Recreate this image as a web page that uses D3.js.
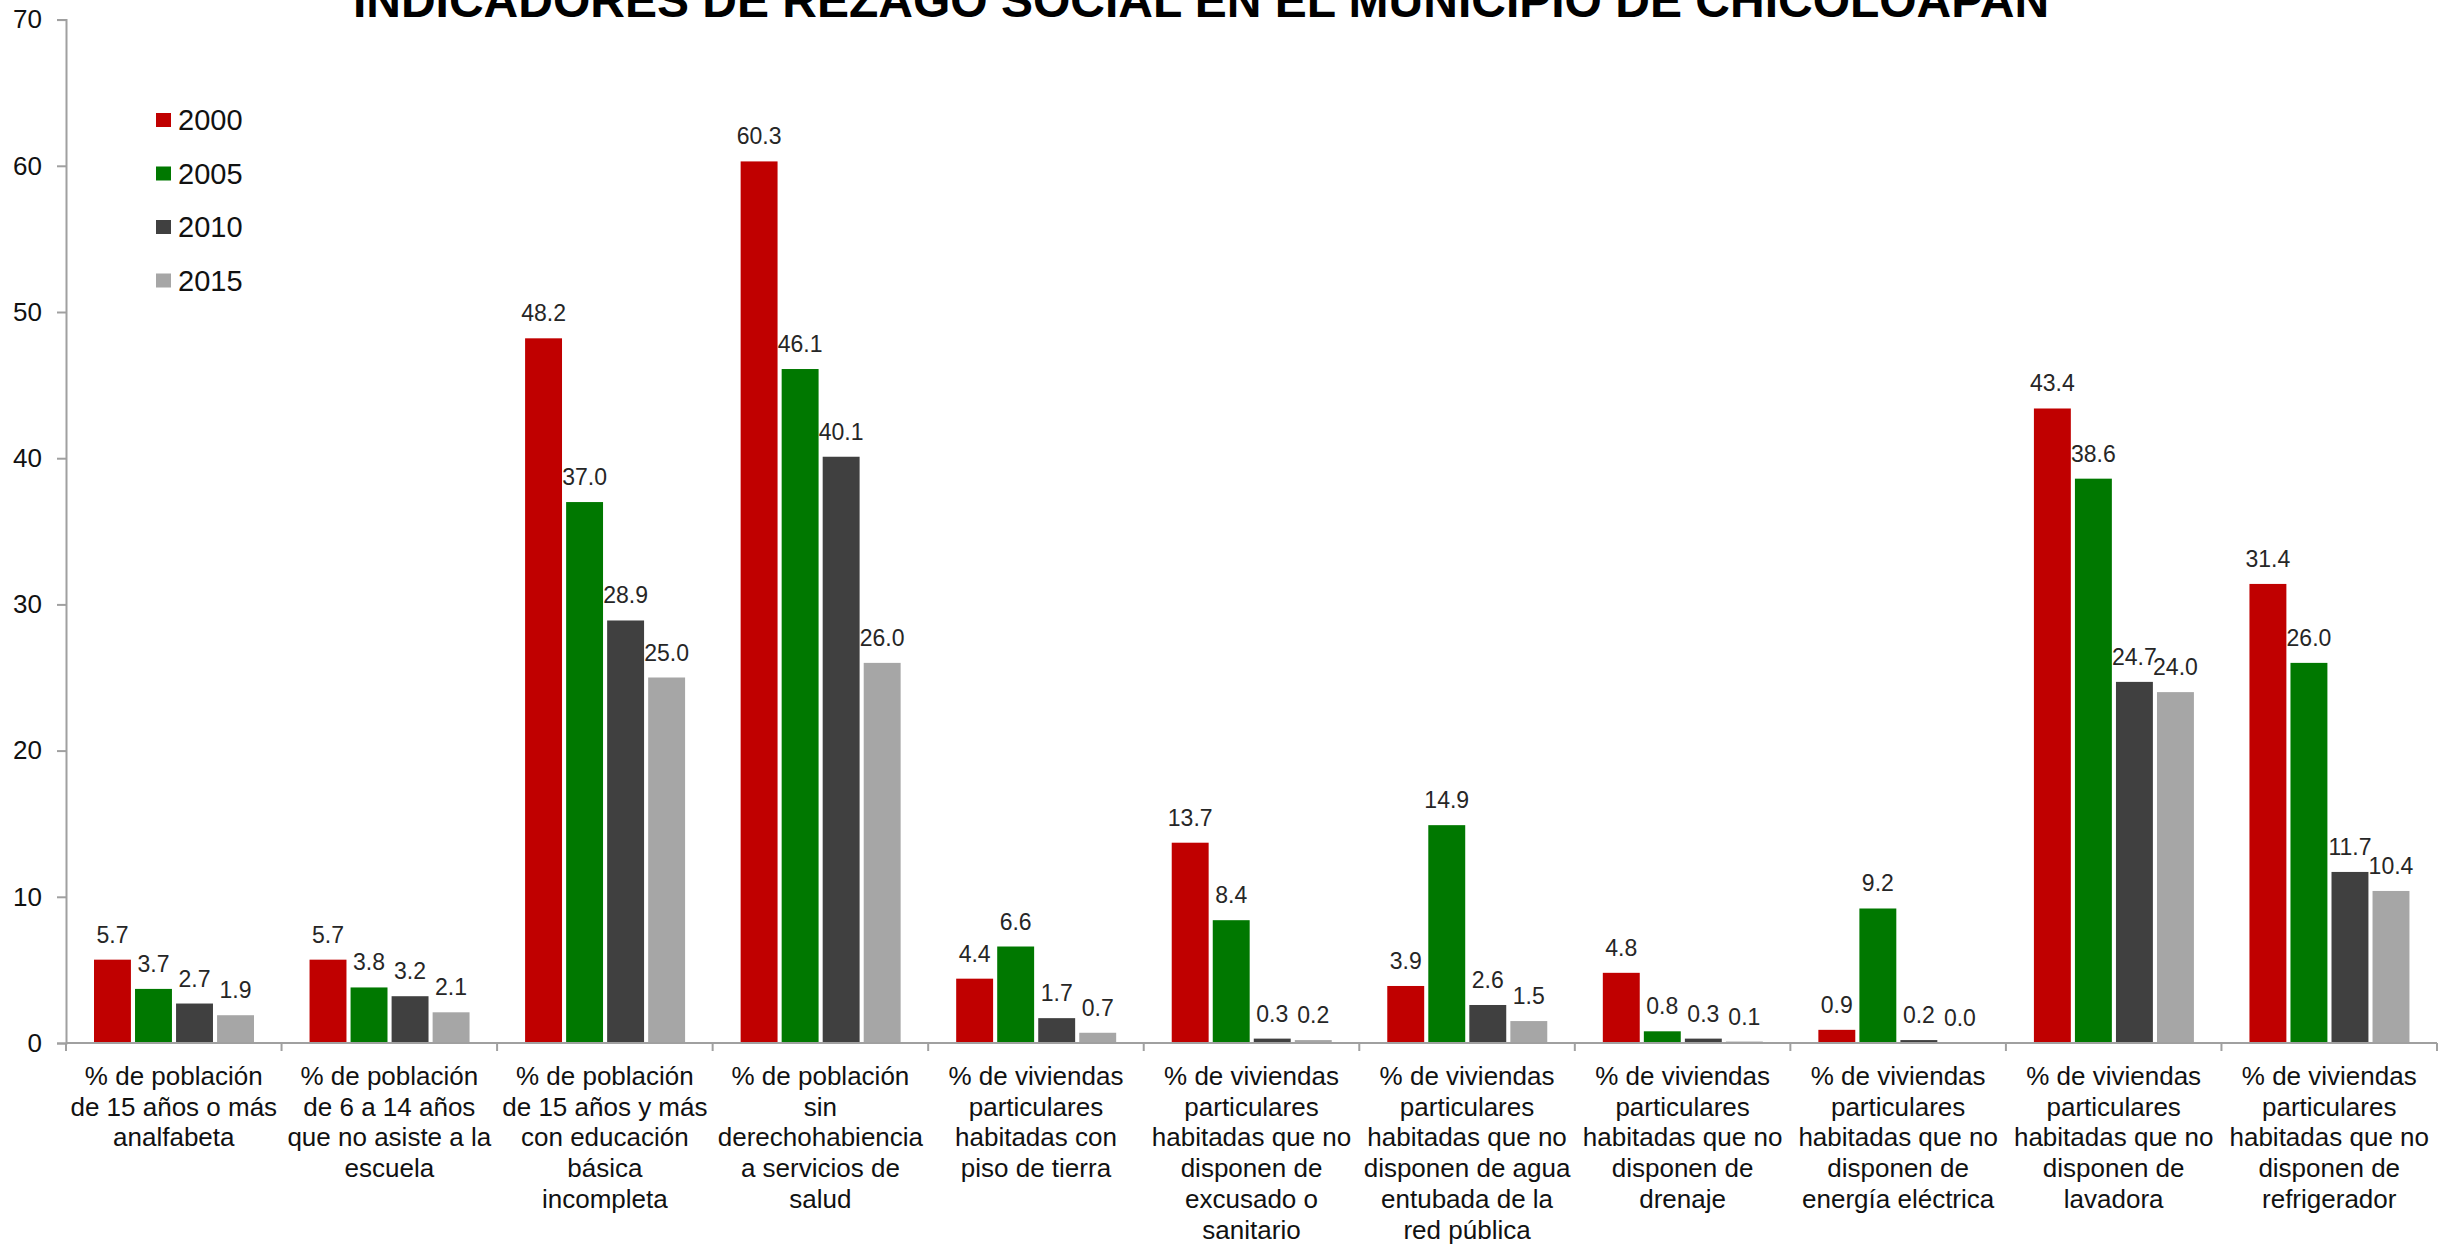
<!DOCTYPE html>
<html><head><meta charset="utf-8">
<script src="https://cdn.jsdelivr.net/npm/d3@7"></script>
<style>
html,body{margin:0;padding:0;background:#fff;}
svg{display:block;font-family:"Liberation Sans",Arial,sans-serif;}
</style></head>
<body>
<svg id="chart" width="2456" height="1246"></svg>
<script>
const title = "INDICADORES DE REZAGO SOCIAL EN EL MUNICIPIO DE CHICOLOAPAN";
const years = ["2000","2005","2010","2015"];
const colors = ["#C00000","#007800","#404040","#A6A6A6"];
const categories = [
  ["% de población","de 15 años o más","analfabeta"],
  ["% de población","de 6 a 14 años","que no asiste a la","escuela"],
  ["% de población","de 15 años y más","con educación","básica","incompleta"],
  ["% de población","sin","derechohabiencia","a servicios de","salud"],
  ["% de viviendas","particulares","habitadas con","piso de tierra"],
  ["% de viviendas","particulares","habitadas que no","disponen de","excusado o","sanitario"],
  ["% de viviendas","particulares","habitadas que no","disponen de agua","entubada de la","red pública"],
  ["% de viviendas","particulares","habitadas que no","disponen de","drenaje"],
  ["% de viviendas","particulares","habitadas que no","disponen de","energía eléctrica"],
  ["% de viviendas","particulares","habitadas que no","disponen de","lavadora"],
  ["% de viviendas","particulares","habitadas que no","disponen de","refrigerador"]
];
const v2000 = [5.7, 5.7, 48.2, 60.3, 4.4, 13.7, 3.9, 4.8, 0.9, 43.4, 31.4];
const v2005 = [3.7, 3.8, 37.0, 46.1, 6.6, 8.4, 14.9, 0.8, 9.2, 38.6, 26.0];
const v2010 = [2.7, 3.2, 28.9, 40.1, 1.7, 0.3, 2.6, 0.3, 0.2, 24.7, 11.7];
const v2015 = [1.9, 2.1, 25.0, 26.0, 0.7, 0.2, 1.5, 0.1, 0.0, 24.0, 10.4];
const yTicks = [0,10,20,30,40,50,60,70];

const series = [v2000, v2005, v2010, v2015];
const svg = d3.select("#chart");
const pLeft = 66, pRight = 2437, pTop = 19.6, pBottom = 1043;
const idx = categories.map((d,i)=>i);
const x0 = d3.scaleBand().domain(idx).range([pLeft, pRight]).padding(0);
const x1 = d3.scaleBand().domain(years).range([28, 188]).paddingInner(0.1);
const y = d3.scaleLinear().domain([0,70]).range([pBottom, pTop]);

// Title
svg.append("text").attr("x", 1201).attr("y", 17).attr("text-anchor","middle")
  .attr("font-size", 48).attr("font-weight","bold").attr("fill","#000").text(title);

// Y axis
const yAxis = svg.append("g").attr("transform", `translate(${pLeft},0)`)
  .call(d3.axisLeft(y).tickValues(yTicks).tickSize(9).tickPadding(15).tickFormat(d3.format("d")));
yAxis.select(".domain").attr("stroke","#A0A0A0").attr("stroke-width",2);
yAxis.selectAll(".tick line").attr("stroke","#A0A0A0").attr("stroke-width",2);
yAxis.selectAll(".tick text").attr("font-size",26).attr("fill","#111")
  .attr("font-family","Liberation Sans, Arial, sans-serif");

// Bars
const groups = svg.append("g").selectAll("g").data(idx).join("g")
  .attr("transform", i => `translate(${x0(i)},0)`);
groups.selectAll("rect").data(i => years.map((yr,k)=>({yr,k,v:series[k][i]}))).join("rect")
  .attr("x", d => x1(d.yr)).attr("width", x1.bandwidth())
  .attr("y", d => y(d.v)).attr("height", d => y(0)-y(d.v))
  .attr("fill", d => colors[d.k]);
groups.selectAll("text.val").data(i => years.map((yr,k)=>({yr,k,v:series[k][i]}))).join("text")
  .attr("class","val")
  .attr("x", d => x1(d.yr) + x1.bandwidth()/2).attr("y", d => y(d.v) - 17)
  .attr("text-anchor","middle").attr("font-size",23).attr("fill","#262626")
  .text(d => d.v.toFixed(1));

// X axis
const xg = svg.append("g");
xg.append("line").attr("x1", pLeft).attr("x2", pRight).attr("y1", y(0)).attr("y2", y(0))
  .attr("stroke","#A0A0A0").attr("stroke-width",2);
const bounds = idx.map(i => x0(i)).concat([pRight]);
xg.selectAll("line.tk").data(bounds).join("line").attr("class","tk")
  .attr("x1", d=>d).attr("x2", d=>d).attr("y1", y(0)).attr("y2", y(0)+8)
  .attr("stroke","#A0A0A0").attr("stroke-width",2);
const lab = xg.selectAll("text.cat").data(idx).join("text").attr("class","cat")
  .attr("text-anchor","middle").attr("font-size",26).attr("fill","#111")
  .attr("transform", i => `translate(${x0(i)+x0.bandwidth()/2},1085)`);
lab.selectAll("tspan").data(i => categories[i]).join("tspan")
  .attr("x",0).attr("y",(d,j)=>j*30.7).text(d=>d);

// Legend
const lg = svg.append("g");
const ly = [120,173.5,227,280.5];
years.forEach((yr,k)=>{
  lg.append("rect").attr("x",156).attr("y",ly[k]-7).attr("width",15).attr("height",14).attr("fill",colors[k]);
  lg.append("text").attr("x",178).attr("y",ly[k]).attr("dy","0.36em").attr("font-size",29).attr("fill","#111").text(yr);
});
</script>
</body></html>
